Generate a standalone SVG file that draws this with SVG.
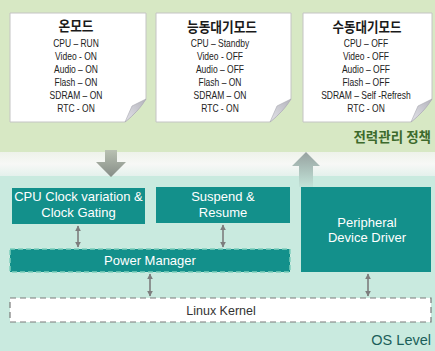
<svg xmlns="http://www.w3.org/2000/svg" width="435" height="351" viewBox="0 0 435 351">
<defs>
<linearGradient id="gDown" x1="0" y1="0" x2="0" y2="1">
<stop offset="0" stop-color="#b9c1b2"/><stop offset="1" stop-color="#868d87"/>
</linearGradient>
<linearGradient id="gUp" x1="0" y1="0" x2="0" y2="1">
<stop offset="0" stop-color="#97a2a0"/><stop offset="1" stop-color="#c2e3d8"/>
</linearGradient>
<linearGradient id="gBand" x1="0" y1="0" x2="0" y2="1">
<stop offset="0" stop-color="#eef2ea"/><stop offset="0.5" stop-color="#f7f8f6"/><stop offset="1" stop-color="#e4f1ec"/>
</linearGradient>
<linearGradient id="gFlap" x1="0" y1="1" x2="1" y2="0">
<stop offset="0" stop-color="#e4e4ea"/><stop offset="1" stop-color="#b4b4bc"/>
</linearGradient>
<marker id="ah" viewBox="0 0 10 10" refX="9" refY="5" markerWidth="6" markerHeight="6" orient="auto-start-reverse" markerUnits="userSpaceOnUse">
<path d="M0,0 L10,5 L0,10 Z" fill="#7d7d7d"/>
</marker>
<style>
.note{fill:#ffffff;stroke:#c4c4c4;stroke-width:1}
.flap{fill:url(#gFlap);stroke:#a8a8b0;stroke-width:0.6}
.title{font-family:"Noto Sans CJK KR","Noto Sans",sans-serif;font-weight:bold;font-size:14px;fill:#1a1a1a;text-anchor:middle}
.body{font-family:"Liberation Sans",Arial,sans-serif;font-size:10px;fill:#222;text-anchor:middle}
.box{fill:#13908b}
.lbl{font-family:"Liberation Sans",Arial,sans-serif;font-size:13px;fill:#ffffff;text-anchor:middle}
.dbl{stroke:#7d7d7d;stroke-width:1.6;fill:none;marker-start:url(#ah);marker-end:url(#ah)}
</style>
</defs>

<!-- backgrounds -->
<rect x="0" y="0" width="435" height="152" fill="#d7e8c4"/>
<rect x="0" y="152" width="435" height="24" fill="url(#gBand)"/>
<rect x="0" y="176" width="435" height="175" fill="#c9eadf"/>

<!-- big arrows -->
<polygon points="105,150 117,150 117,162 126,162 111,177 96,162 105,162" fill="url(#gDown)"/>
<polygon points="306,152 320,166 313,166 313,187 299,187 299,166 292,166" fill="url(#gUp)"/>

<g id="note-on">
<path class="note" d="M10,13 H146 V99 Q138,112 125,122 H10 Z"/>
<path class="flap" d="M125,122 L132,106 L146,99 Q138,112 125,122 Z"/>
<text class="title" x="76" y="31" textLength="35" lengthAdjust="spacingAndGlyphs">온모드</text>
<g transform="translate(76,0) scale(0.85,1)">
<text class="body" x="0" y="47">CPU – RUN</text>
<text class="body" x="0" y="60">Video - ON</text>
<text class="body" x="0" y="73">Audio – ON</text>
<text class="body" x="0" y="86">Flash – ON</text>
<text class="body" x="0" y="99">SDRAM – ON</text>
<text class="body" x="0" y="112">RTC - ON</text>
</g>
</g>

<g id="note-standby">
<path class="note" d="M156,13 H291 V99 Q283,112 270,122 H156 Z"/>
<path class="flap" d="M270,122 L277,106 L291,99 Q283,112 270,122 Z"/>
<text class="title" x="222" y="32" textLength="70" lengthAdjust="spacingAndGlyphs">능동대기모드</text>
<g transform="translate(220,0) scale(0.85,1)">
<text class="body" x="0" y="47">CPU – Standby</text>
<text class="body" x="0" y="60">Video - OFF</text>
<text class="body" x="0" y="73">Audio – OFF</text>
<text class="body" x="0" y="86">Flash – ON</text>
<text class="body" x="0" y="99">SDRAM – ON</text>
<text class="body" x="0" y="112">RTC - ON</text>
</g>
</g>

<g id="note-passive">
<path class="note" d="M303,13 H432 V99 Q424,112 411,122 H303 Z"/>
<path class="flap" d="M411,122 L418,106 L432,99 Q424,112 411,122 Z"/>
<text class="title" x="367" y="32" textLength="69" lengthAdjust="spacingAndGlyphs">수동대기모드</text>
<g transform="translate(366,0) scale(0.85,1)">
<text class="body" x="0" y="47">CPU – OFF</text>
<text class="body" x="0" y="60">Video - OFF</text>
<text class="body" x="0" y="73">Audio – OFF</text>
<text class="body" x="0" y="86">Flash – OFF</text>
<text class="body" x="0" y="99">SDRAM – Self -Refresh</text>
<text class="body" x="0" y="112">RTC - ON</text>
</g>
</g>

<g id="policy-label">
<text x="431" y="142" text-anchor="end" font-family="Noto Sans CJK KR, sans-serif" font-weight="bold" font-size="13.5" fill="#3d6a2c">전력관리 정책</text>
</g>

<g id="cpu-clock">
<rect class="box" x="12" y="188" width="133" height="36"/>
<text class="lbl" x="78.5" y="201">CPU Clock variation &amp;</text>
<text class="lbl" x="78.5" y="217">Clock Gating</text>
</g>

<g id="suspend">
<rect class="box" x="156" y="187" width="134" height="36"/>
<text class="lbl" x="223" y="201">Suspend &amp;</text>
<text class="lbl" x="223" y="217">Resume</text>
</g>

<g id="peripheral">
<rect class="box" x="301" y="187" width="130" height="85"/>
<text class="lbl" x="367" y="227">Peripheral</text>
<text class="lbl" x="367" y="242">Device Driver</text>
</g>

<g id="power-manager">
<rect x="10" y="249" width="280" height="23" fill="#13908b" stroke="#7fcfbd" stroke-width="1.5" stroke-dasharray="5 3"/>
<text class="lbl" x="150" y="265">Power Manager</text>
</g>

<g id="linux-kernel">
<rect x="10" y="298" width="421" height="24" fill="#ffffff" stroke="#7a7a7a" stroke-width="1.2" stroke-dasharray="6 4"/>
<text x="221" y="315" text-anchor="middle" font-family="Liberation Sans, Arial, sans-serif" font-size="12.5" fill="#333">Linux Kernel</text>
</g>

<g id="os-level">
<text x="431" y="345" text-anchor="end" font-family="Liberation Sans, Arial, sans-serif" font-size="14.5" fill="#1b5f5a">OS Level</text>
</g>

<g id="connectors">
<line class="dbl" x1="78" y1="226" x2="78" y2="247"/>
<line class="dbl" x1="223" y1="225" x2="223" y2="247"/>
<line class="dbl" x1="150" y1="274" x2="150" y2="296"/>
<line class="dbl" x1="368" y1="274" x2="368" y2="296"/>
</g>
</svg>
